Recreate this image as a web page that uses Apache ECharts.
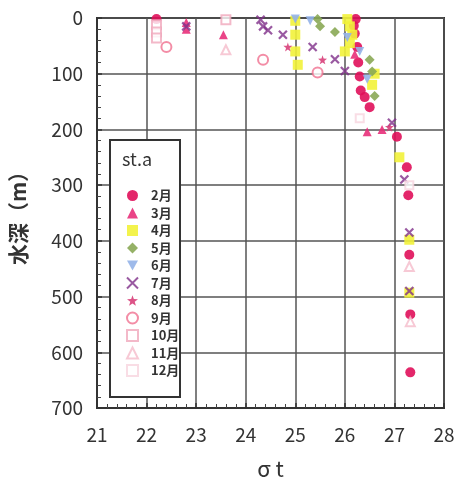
<!DOCTYPE html>
<html><head><meta charset="utf-8">
<script src="https://cdn.jsdelivr.net/npm/echarts@6/dist/echarts.min.js"></script>
<style>html,body{margin:0;padding:0;background:#fff}#c{width:459px;height:480px}</style>
</head><body><div id="c"></div>
<script>
const months = ['2月','3月','4月','5月','6月','7月','8月','9月','10月','11月','12月'];
const xTicks = [21,22,23,24,25,26,27,28];
const yTicks = [0,100,200,300,400,500,600,700];
const feb = [[22.2,2],[26.22,2],[26.18,14],[26.2,28],[26.25,52],[26.27,80],[26.3,105],[26.32,130],[26.4,142],[26.5,160],[27.05,213],[27.25,268],[27.28,318],[27.3,425],[27.32,532],[27.32,636]];
const mar = [[22.8,8],[22.8,20],[23.55,30],[26.45,204],[26.75,200],[26.2,65]];
const apr = [[26.05,2],[26.1,15],[26.15,30],[26.1,45],[26.0,60],[25.0,5],[25.0,30],[25.0,60],[25.05,84],[26.55,120],[26.6,100],[27.1,250],[27.3,398],[27.3,493]];
const may = [[25.45,2],[25.5,15],[25.8,25],[26.5,75],[26.55,96],[26.6,140]];
const jun = [[25.0,2],[25.3,5],[26.05,35],[26.3,60],[26.45,110]];
const jul = [[22.8,15],[24.3,3],[24.35,15],[24.45,22],[24.75,30],[25.35,52],[25.8,74],[26.0,95],[26.95,188],[27.2,290],[27.3,385],[27.3,490]];
const aug = [[24.85,52],[25.55,75],[26.9,196]];
const sep = [[22.4,52],[24.35,75],[25.45,98]];
const oct = [[22.2,12],[22.2,25],[22.2,36],[23.6,3]];
const nov = [[23.6,57],[27.3,446],[27.32,545]];
const dec = [[27.3,300],[26.3,180]];
const seriesData = [feb,mar,apr,may,jun,jul,aug,sep,oct,nov,dec];

const colors = ['#e0105a','#e8307a','#f2f23a','#8aa855','#94b2e8','#80308a','#d8407a','#f07090','#f0a8bc','#f5bccb','#f8d4de'];
const xPath = 'path://M0,0L10,10M10,0L0,10';
const starPath = 'path://M5,0L6.2,3.4L10,3.6L7,6L8.1,9.6L5,7.6L1.9,9.6L3,6L0,3.6L3.8,3.4Z';
const symbols = ['circle','triangle','rect','diamond','path://M0,0L10,0L5,9Z',xPath,starPath,'emptyCircle','emptyRect','emptyTriangle','emptyRect'];
const sizes = [10,9,10,10,9,8,9,10,9,9,8];

const series = months.map((m,i)=>{
  const s = {name:m,type:'scatter',data:seriesData[i],symbol:symbols[i],symbolSize:sizes[i],
    itemStyle:{color:colors[i],opacity:0.9}};
  if(i===5){ s.itemStyle = {color:'rgba(0,0,0,0)',borderColor:colors[i],borderWidth:2.2}; }
  if(i>=7){ s.itemStyle = {color:colors[i],borderWidth:1.5}; }
  return s;
});

const chart = echarts.init(document.getElementById('c'));
const font = '"Noto Sans CJK JP","Noto Sans",sans-serif';
chart.setOption({
  animation:false,
  textStyle:{fontFamily:font},
  grid:{left:97,right:15,top:18,bottom:72,show:true,borderColor:'#333',borderWidth:2,backgroundColor:'transparent',outerBoundsMode:'none',containLabel:false},
  xAxis:{type:'value',min:xTicks[0],max:xTicks[xTicks.length-1],interval:1,position:'bottom',
    name:'σ t',nameLocation:'middle',nameGap:50,nameTextStyle:{fontSize:22,color:'#333'},
    axisLine:{onZero:false,lineStyle:{color:'#333',width:2}},
    axisTick:{show:true,inside:true,length:5,lineStyle:{color:'#333',width:1.5}},
    minorTick:{show:true,splitNumber:5,length:4,lineStyle:{color:'#444',width:1}},
    splitLine:{show:true,lineStyle:{color:'#555',width:1.5}},
    axisLabel:{fontSize:19,color:'#333',margin:17}},
  yAxis:{type:'value',inverse:true,min:yTicks[0],max:yTicks[yTicks.length-1],interval:100,position:'left',
    name:'水深（m）',nameLocation:'middle',nameGap:68,nameRotate:90,nameTextStyle:{fontSize:21,color:'#333',fontWeight:'bold'},
    axisLine:{onZero:false,lineStyle:{color:'#333',width:2}},
    axisTick:{show:true,inside:true,length:5,lineStyle:{color:'#333',width:1.5}},
    minorTick:{show:true,splitNumber:5,length:4,lineStyle:{color:'#444',width:1}},
    splitLine:{show:true,lineStyle:{color:'#555',width:1.5}},
    axisLabel:{fontSize:19,color:'#333',margin:14}},
  legend:{orient:'vertical',left:121,top:184,itemGap:4.5,itemWidth:11,itemHeight:11,
    align:'left',textStyle:{fontSize:13,color:'#333',fontWeight:'bold',padding:[0,0,0,8]},data:months,z:10},
  graphic:[
    {type:'rect',shape:{x:110,y:140,width:70,height:257},style:{fill:'#fff',stroke:'#333',lineWidth:2},z:5},
    {type:'text',x:122,y:150,style:{text:'st.a',fontSize:18,fill:'#333',fontFamily:font},z:6}
  ],
  series:series
});
</script></body></html>
